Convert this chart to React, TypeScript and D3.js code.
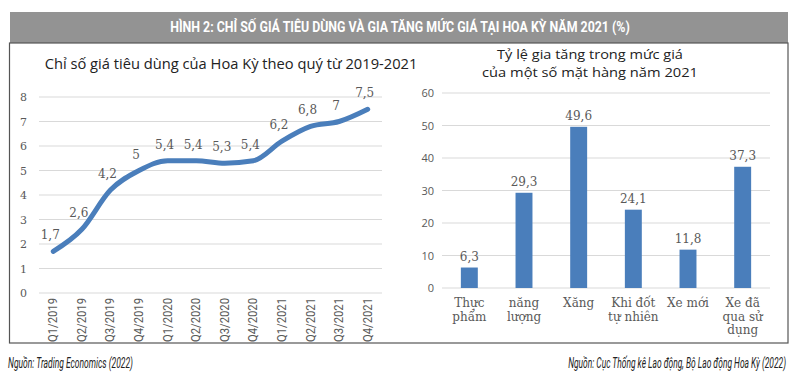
import React, { useLayoutEffect, useRef, useState } from "react";
import * as d3 from "d3";

const W = 800;
const H = 381;

const quarters = ["Q1/2019", "Q2/2019", "Q3/2019", "Q4/2019", "Q1/2020", "Q2/2020", "Q3/2020", "Q4/2020", "Q1/2021", "Q2/2021", "Q3/2021", "Q4/2021"];
const cpiValues = [1.7, 2.6, 4.2, 5, 5.4, 5.4, 5.3, 5.4, 6.2, 6.8, 7, 7.5];
const cpiTicks = [0, 1, 2, 3, 4, 5, 6, 7, 8];

const goods = ["Thực\nphẩm", "năng\nlượng", "Xăng", "Khi đốt\ntự nhiên", "Xe mới", "Xe đã\nqua sử\ndụng"];
const goodsValues = [6.3, 29.3, 49.6, 24.1, 11.8, 37.3];
const goodsTicks = [0, 10, 20, 30, 40, 50, 60];

const fmt = (v: number) => String(v).replace(".", ",");

const BLUE = "#4a7ebb";
const GRAY_TEXT = "#595959";
const GRID = "#d9d9d9";
const SANS = "'Open Sans', 'Noto Sans', sans-serif";
const SERIF = "'DejaVu Serif', serif";
const NARROW = "'Roboto', 'Liberation Sans', sans-serif";

type FitProps = {
  x: number;
  y: number;
  width: number;
  anchor?: "start" | "middle" | "end";
  rotate?: number;
  children: string;
  [k: string]: any;
};

// Text squeezed horizontally to a target width (via measured scale), so its real geometry matches
function FitText({ x, y, width, anchor = "start", rotate = 0, children, ...rest }: FitProps) {
  const ref = useRef<SVGTextElement>(null);
  const [sx, setSx] = useState(1);
  useLayoutEffect(() => {
    if (ref.current) {
      const len = ref.current.getComputedTextLength();
      if (len > 0) setSx(width / len);
    }
  }, [width, children]);
  return (
    <g transform={`translate(${x},${y}) rotate(${rotate}) scale(${sx},1)`}>
      <text ref={ref} x={0} y={0} textAnchor={anchor} {...rest}>
        {children}
      </text>
    </g>
  );
}

export default function App() {
  const xL = d3.scaleBand<string>().domain(quarters).range([39, 382]);
  const yL = d3.scaleLinear().domain([0, 8]).range([293, 97]);
  const cx = (q: string) => (xL(q) as number) + xL.bandwidth() / 2;
  const line = d3
    .line<number>()
    .x((_, i) => cx(quarters[i]))
    .y((d) => yL(d))
    .curve(d3.curveMonotoneX);

  const xR = d3.scaleBand<string>().domain(goods).range([442, 770]).paddingInner(0.69).paddingOuter(0.345);
  const yR = d3.scaleLinear().domain([0, 60]).range([288, 93]);

  return (
    <svg width={W} height={H} style={{ position: "absolute", left: 0, top: 0, background: "#fff" }}>
      <rect x={10} y={12} width={778} height={31} fill="#939393" />
      <FitText x={400} y={32} width={460} anchor="middle" fill="#fff" fontFamily={NARROW} fontWeight="bold" fontSize={14}>
        HÌNH 2: CHỈ SỐ GIÁ TIÊU DÙNG VÀ GIA TĂNG MỨC GIÁ TẠI HOA KỲ NĂM 2021 (%)
      </FitText>
      <rect x={9.5} y={43} width={778.5} height={300} fill="none" stroke="#555" strokeWidth={1.2} />

      {/* Left chart */}
      <FitText x={231} y={69} width={373} anchor="middle" fontFamily={SANS} fontSize={14} fill="#222">
        Chỉ số giá tiêu dùng của Hoa Kỳ theo quý từ 2019-2021
      </FitText>
      {cpiTicks.map((t) => (
        <g key={"lt" + t}>
          <line x1={39} x2={382} y1={yL(t)} y2={yL(t)} stroke={GRID} strokeWidth={1} />
          <text x={27} y={yL(t) + 4} textAnchor="end" fontFamily={SERIF} fontSize={11} fill={GRAY_TEXT}>
            {t}
          </text>
        </g>
      ))}
      <path d={line(cpiValues) || ""} fill="none" stroke={BLUE} strokeWidth={5} strokeLinecap="round" strokeLinejoin="round" />
      {cpiValues.map((v, i) => (
        <text key={"ll" + i} x={cx(quarters[i]) - 3} y={yL(v) - 12} textAnchor="middle" fontFamily={SERIF} fontSize={12} fill={GRAY_TEXT}>
          {fmt(v)}
        </text>
      ))}
      {quarters.map((q) => (
        <FitText key={"xq" + q} x={cx(q) + 4} y={298} rotate={-90} width={44} anchor="end" fontFamily={NARROW} fontSize={12} fill={GRAY_TEXT}>
          {q}
        </FitText>
      ))}

      {/* Right chart */}
      <FitText x={590} y={59} width={186} anchor="middle" fontFamily={SANS} fontSize={13} fill="#222">
        Tỷ lệ gia tăng trong mức giá
      </FitText>
      <FitText x={590} y={77} width={216} anchor="middle" fontFamily={SANS} fontSize={13} fill="#222">
        của một số mặt hàng năm 2021
      </FitText>
      {goodsTicks.map((t) => (
        <g key={"rt" + t}>
          <line x1={442} x2={770} y1={yR(t)} y2={yR(t)} stroke={GRID} strokeWidth={1} />
          <text x={434} y={yR(t) + 4} textAnchor="end" fontFamily={SANS} fontSize={11} fill={GRAY_TEXT}>
            {t}
          </text>
        </g>
      ))}
      {goods.map((g, i) => (
        <g key={"bar" + i}>
          <rect x={xR(g) as number} y={yR(goodsValues[i])} width={xR.bandwidth()} height={yR(0) - yR(goodsValues[i])} fill={BLUE} />
          <text x={(xR(g) as number) + xR.bandwidth() / 2} y={yR(goodsValues[i]) - 7} textAnchor="middle" fontFamily={SERIF} fontSize={12} fill={GRAY_TEXT}>
            {fmt(goodsValues[i])}
          </text>
          {g.split("\n").map((ln, j) => (
            <text key={j} x={(xR(g) as number) + xR.bandwidth() / 2} y={307 + j * 13.5} textAnchor="middle" fontFamily={SERIF} fontSize={12} fill={GRAY_TEXT}>
              {ln}
            </text>
          ))}
        </g>
      ))}

      {/* sources */}
      <FitText x={8} y={368} width={125} fontFamily={NARROW} fontStyle="italic" fontSize={14} fill="#222">
        Nguồn: Trading Economics (2022)
      </FitText>
      <FitText x={786} y={368} width={218} anchor="end" fontFamily={NARROW} fontStyle="italic" fontSize={14} fill="#222">
        Nguồn: Cục Thống kê Lao động, Bộ Lao động Hoa Kỳ (2022)
      </FitText>
    </svg>
  );
}
